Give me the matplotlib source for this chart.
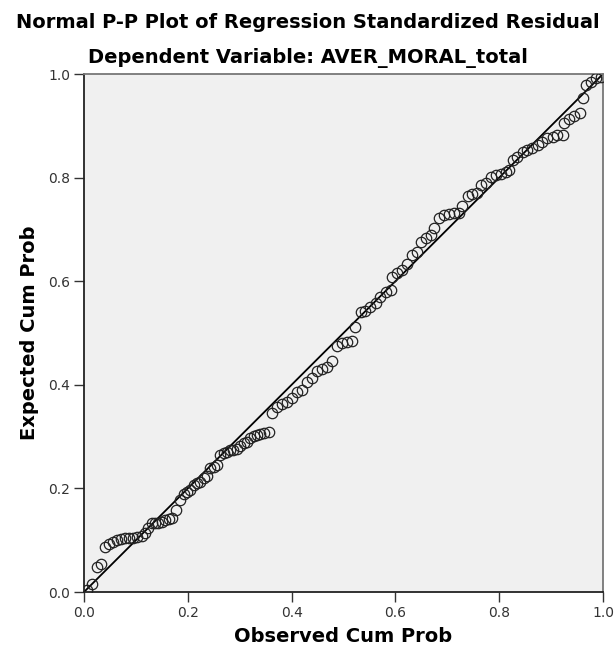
import matplotlib
matplotlib.use("Agg")
import matplotlib.pyplot as plt

observed = [0.005, 0.015, 0.0245, 0.032, 0.0405, 0.049, 0.0553, 0.063, 0.0708, 0.079, 0.0875, 0.095,
            0.103, 0.111, 0.118, 0.124, 0.131, 0.137, 0.143, 0.150, 0.156, 0.163, 0.169, 0.178,
            0.185, 0.192, 0.198, 0.205, 0.211, 0.218, 0.224, 0.231, 0.237, 0.243, 0.250, 0.256,
            0.263, 0.269, 0.276, 0.282, 0.288, 0.295, 0.301, 0.308, 0.314, 0.320, 0.327, 0.333,
            0.340, 0.346, 0.356,
            0.362, 0.372, 0.382, 0.391, 0.401, 0.411, 0.420, 0.430, 0.439, 0.449, 0.459, 0.469,
            0.478, 0.488, 0.497, 0.507, 0.517, 0.523, 0.533, 0.542, 0.552, 0.562, 0.571, 0.581,
            0.591, 0.594, 0.604, 0.613, 0.623, 0.632, 0.642,
            0.649, 0.658, 0.668, 0.674, 0.684, 0.693, 0.703, 0.713, 0.723, 0.729, 0.739, 0.748,
            0.758, 0.764, 0.774, 0.784, 0.793, 0.803, 0.813, 0.819, 0.826, 0.835, 0.845, 0.854,
            0.864, 0.874, 0.883, 0.893, 0.903, 0.912, 0.922, 0.925, 0.935, 0.945, 0.955, 0.961,
            0.967, 0.977, 0.987, 0.996]
expected = [0.004, 0.015, 0.049, 0.055, 0.0875, 0.0927, 0.097, 0.100, 0.102, 0.104, 0.104, 0.104,
            0.107, 0.108, 0.113, 0.123, 0.133, 0.134, 0.133, 0.136, 0.139, 0.140, 0.142, 0.158,
            0.178, 0.190, 0.194, 0.197, 0.207, 0.210, 0.213, 0.220, 0.223, 0.239, 0.242, 0.245,
            0.264, 0.268, 0.271, 0.274, 0.275, 0.277, 0.281, 0.287, 0.290, 0.297, 0.301, 0.303,
            0.305, 0.306, 0.308,
            0.345, 0.358, 0.363, 0.367, 0.374, 0.387, 0.390, 0.406, 0.413, 0.427, 0.430, 0.434,
            0.445, 0.474, 0.481, 0.483, 0.485, 0.512, 0.541, 0.543, 0.551, 0.557, 0.570, 0.580,
            0.583, 0.609, 0.615, 0.622, 0.634, 0.650, 0.657,
            0.676, 0.683, 0.689, 0.702, 0.722, 0.728, 0.730, 0.731, 0.731, 0.745, 0.764, 0.768,
            0.771, 0.786, 0.789, 0.802, 0.805, 0.807, 0.811, 0.815, 0.834, 0.840, 0.850, 0.853,
            0.857, 0.863, 0.869, 0.876, 0.879, 0.882, 0.882, 0.905, 0.914, 0.918, 0.924, 0.953,
            0.979, 0.985, 0.992, 0.995]

ticks = [0.0, 0.2, 0.4, 0.6, 0.8, 1.0]
tick_labels = ["0.0", "0.2", "0.4", "0.6", "0.8", "1.0"]

fig = plt.figure(figsize=(6.15, 6.53), dpi=100)
ax = fig.add_axes([84/615, 1-592/653, (603-84)/615, (592-74)/653])
ax.set_facecolor("#f0f0f0")

ax.plot([0, 1], [0, 1], color="black", lw=1.3, zorder=2)
ax.plot(observed, expected, linestyle="none", marker="o", markersize=7.5,
        markerfacecolor="none", markeredgecolor="#222222", markeredgewidth=0.9, zorder=3)

ax.set_xlim(0, 1)
ax.set_ylim(0, 1)
ax.set_xticks(ticks)
ax.set_xticklabels(tick_labels)
ax.set_yticks(ticks)
ax.set_yticklabels(tick_labels)
ax.tick_params(direction="out", length=7, width=1, colors="#333333", labelsize=10, pad=3)

for s in ["left", "bottom"]:
    ax.spines[s].set_color("#222222")
    ax.spines[s].set_linewidth(1.3)
for s in ["top", "right"]:
    ax.spines[s].set_color("#777777")
    ax.spines[s].set_linewidth(1.3)

ax.set_xlabel("Observed Cum Prob", fontsize=14, fontweight="bold", va="center")
ax.set_ylabel("Expected Cum Prob", fontsize=14, fontweight="bold", va="center")
ax.xaxis.set_label_coords(0.5, (592-636)/518)
ax.yaxis.set_label_coords((30-84)/519, 0.5)

fig.text(0.5, 1-22/653, "Normal P-P Plot of Regression Standardized Residual",
         ha="center", va="center", fontsize=14, fontweight="bold")
fig.text(0.5, 1-58/653, "Dependent Variable: AVER_MORAL_total",
         ha="center", va="center", fontsize=14, fontweight="bold")

fig.savefig("out.png", dpi=100)
